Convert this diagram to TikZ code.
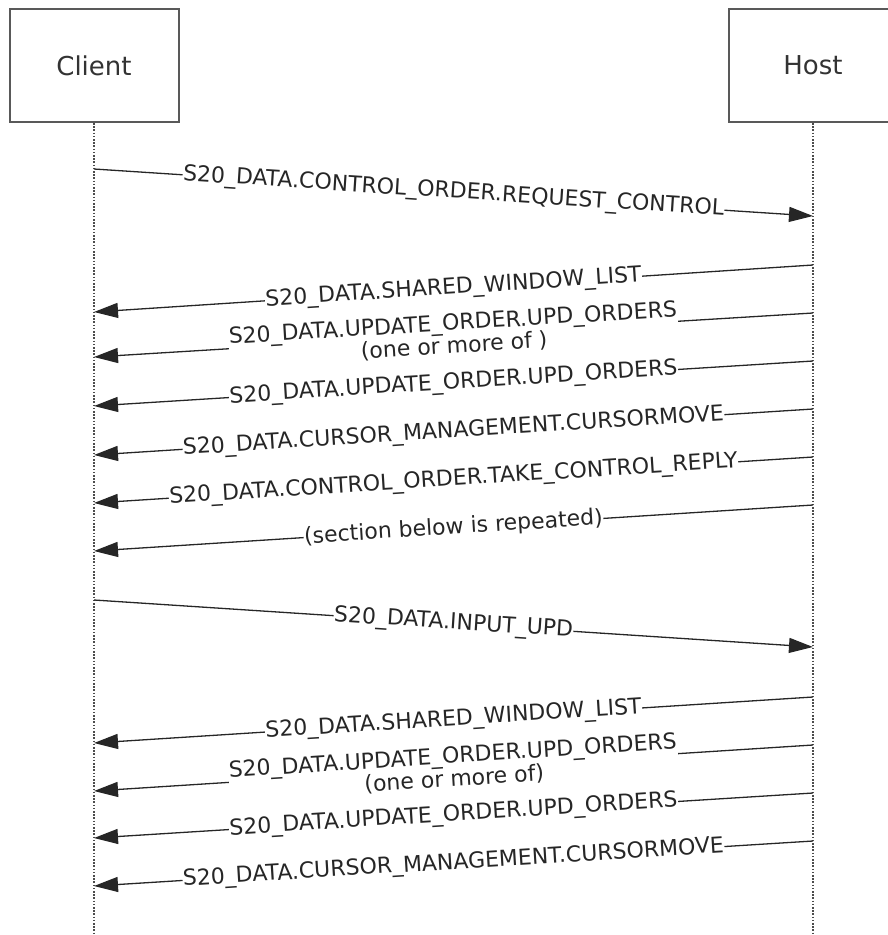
\documentclass[tikz,border=0pt]{standalone}
\usepackage{fontspec}
\setmainfont{DejaVu Sans}
\usetikzlibrary{arrows.meta,positioning}

\begin{document}
\begin{tikzpicture}
	[x=1pt,y=-1pt,>={Triangle[length=24pt,width=15pt]},node distance=719pt]
	\tikzstyle{actor}=[draw=black!65,line width=2pt,minimum width=169pt,minimum height=113pt,font=\fontsize{26}{30}\selectfont,text=black!80]
	\tikzstyle{lifeline}=[draw=black!70,line width=1.6pt,dash pattern=on 1.6pt off 1.6pt]
	\tikzstyle{msg}=[->,color=black!85,line width=1.3pt]
	\tikzstyle{lbl}=[sloped,fill=white,inner sep=0.5pt,font=\fontsize{22}{21.5}\selectfont,text=black!85,align=center]

	\useasboundingbox (0,0) rectangle (887,935);

	\node[actor] (client) at (94,65.5) {Client};
	\node[actor] (host)   [right of=client] {Host};

	\coordinate (cend) at (94,935);
	\coordinate (hend) at (813,935);
	\draw[lifeline] (client) -- (cend);
	\draw[lifeline] (host) -- (hend);

	% message ends on the lifelines
	\coordinate (c1)  at (94,169);  \coordinate (h1)  at (813,216);
	\coordinate (h2)  at (813,265); \coordinate (c2)  at (94,312);
	\coordinate (h3)  at (813,313); \coordinate (c3)  at (94,357);
	\coordinate (h4)  at (813,361); \coordinate (c4)  at (94,406);
	\coordinate (h5)  at (813,409); \coordinate (c5)  at (94,455);
	\coordinate (h6)  at (813,457); \coordinate (c6)  at (94,503);
	\coordinate (h7)  at (813,505); \coordinate (c7)  at (94,551);
	\coordinate (c8)  at (94,600);  \coordinate (h8)  at (813,647);
	\coordinate (h9)  at (813,697); \coordinate (c9)  at (94,743);
	\coordinate (h10) at (813,745); \coordinate (c10) at (94,791);
	\coordinate (h11) at (813,793); \coordinate (c11) at (94,838);
	\coordinate (h12) at (813,841); \coordinate (c12) at (94,886);

	\path[msg] (c1) edge node[lbl] {S20\_DATA.CONTROL\_ORDER.REQUEST\_CONTROL} (h1)
		(h2) edge node[lbl] {S20\_DATA.SHARED\_WINDOW\_LIST} (c2)
		(h3) edge node[lbl] {S20\_DATA.UPDATE\_ORDER.UPD\_ORDERS\\(one or more of )} (c3)
		(h4) edge node[lbl] {S20\_DATA.UPDATE\_ORDER.UPD\_ORDERS} (c4)
		(h5) edge node[lbl] {S20\_DATA.CURSOR\_MANAGEMENT.CURSORMOVE} (c5)
		(h6) edge node[lbl] {S20\_DATA.CONTROL\_ORDER.TAKE\_CONTROL\_REPLY} (c6)
		(h7) edge node[lbl] {(section below is repeated)} (c7)
		(c8) edge node[lbl] {S20\_DATA.INPUT\_UPD} (h8)
		(h9) edge node[lbl] {S20\_DATA.SHARED\_WINDOW\_LIST} (c9)
		(h10) edge node[lbl] {S20\_DATA.UPDATE\_ORDER.UPD\_ORDERS\\(one or more of)} (c10)
		(h11) edge node[lbl] {S20\_DATA.UPDATE\_ORDER.UPD\_ORDERS} (c11)
		(h12) edge node[lbl] {S20\_DATA.CURSOR\_MANAGEMENT.CURSORMOVE} (c12);
\end{tikzpicture}
\end{document}
